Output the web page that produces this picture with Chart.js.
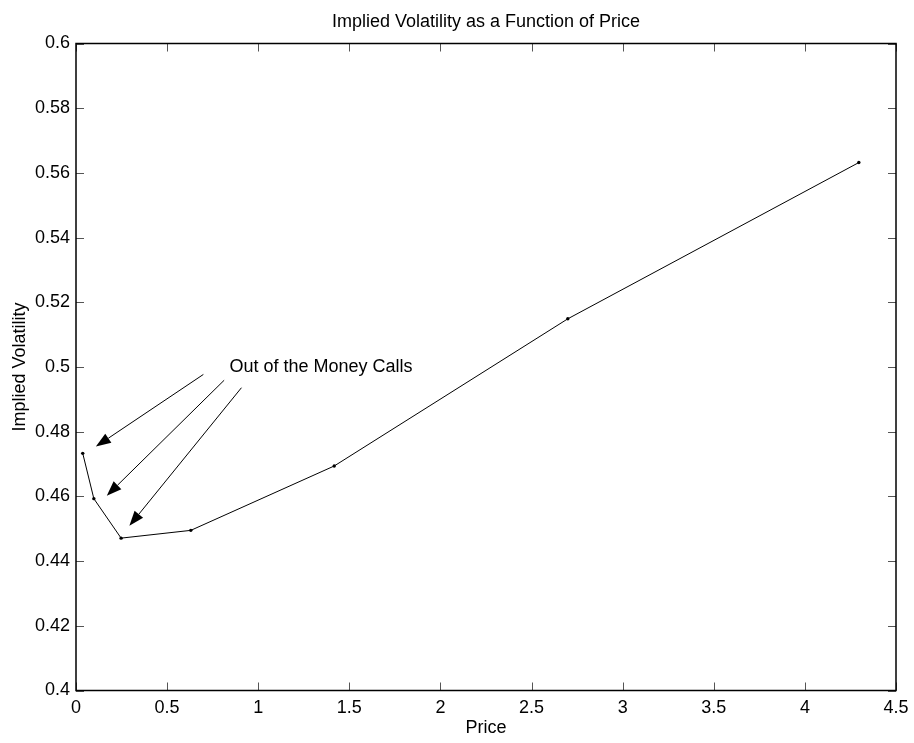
<!DOCTYPE html>
<html><head><meta charset="utf-8">
<script src="https://cdn.jsdelivr.net/npm/chart.js@4.4.1/dist/chart.umd.min.js"></script>
<style>html,body{margin:0;padding:0;background:#fff}#wrap{width:914px;height:743px}</style>
</head><body><div id="wrap"><canvas id="c" width="914" height="743"></canvas></div>
<script>
const prices = [0.037, 0.098, 0.2475, 0.630, 1.417, 2.699, 4.296];
const vols   = [0.4733, 0.4593, 0.4471, 0.4495, 0.4694, 0.5149, 0.5632];
const xTickValues = [0, 0.5, 1, 1.5, 2, 2.5, 3, 3.5, 4, 4.5];
const xTickLabels = ['0', '0.5', '1', '1.5', '2', '2.5', '3', '3.5', '4', '4.5'];
const yTickValues = [0.4, 0.42, 0.44, 0.46, 0.48, 0.5, 0.52, 0.54, 0.56, 0.58, 0.6];
const yTickLabels = ['0.4', '0.42', '0.44', '0.46', '0.48', '0.5', '0.52', '0.54', '0.56', '0.58', '0.6'];
const titleText = 'Implied Volatility as a Function of Price';
const xTitle = 'Price';
const yTitle = 'Implied Volatility';
const annotationText = 'Out of the Money Calls';
const annotationX = 0.842;
const annotationY = 0.5;
const arrowFromX = [0.699, 0.813, 0.908];
const arrowFromY = [0.4977, 0.4959, 0.4936];
const arrowToX   = [0.109, 0.169, 0.293];
const arrowToY   = [0.4754, 0.4602, 0.4509];

const FONT = '"Liberation Sans", Arial, Helvetica, sans-serif';

const framePlugin = {
  id: 'frame',
  afterDraw(chart) {
    const ctx = chart.ctx, a = chart.chartArea;
    const xs = chart.scales.x, ys = chart.scales.y;
    ctx.save();
    ctx.strokeStyle = '#555';
    ctx.lineWidth = 1;
    const tl = 8;
    ctx.beginPath();
    xTickValues.forEach(v => {
      const px = Math.round(xs.getPixelForValue(v)) + 0.5;
      ctx.moveTo(px, a.bottom); ctx.lineTo(px, a.bottom - tl);
      ctx.moveTo(px, a.top); ctx.lineTo(px, a.top + tl);
    });
    yTickValues.forEach(v => {
      const py = Math.round(ys.getPixelForValue(v)) + 0.5;
      ctx.moveTo(a.left, py); ctx.lineTo(a.left + tl, py);
      ctx.moveTo(a.right, py); ctx.lineTo(a.right - tl, py);
    });
    ctx.stroke();
    ctx.strokeStyle = '#000';
    ctx.lineWidth = 1.5;
    ctx.strokeRect(a.left, a.top, a.right - a.left, a.bottom - a.top);
    ctx.fillStyle = '#000';
    ctx.font = '18px ' + FONT;
    ctx.textBaseline = 'middle';
    ctx.textAlign = 'center';
    ctx.fillText(titleText, (a.left + a.right) / 2, 21.8);
    ctx.textAlign = 'left';
    ctx.fillText(annotationText, xs.getPixelForValue(annotationX), ys.getPixelForValue(annotationY));
    ctx.lineWidth = 1;
    for (let i = 0; i < arrowFromX.length; i++) {
      const x0 = xs.getPixelForValue(arrowFromX[i]), y0 = ys.getPixelForValue(arrowFromY[i]);
      const x1 = xs.getPixelForValue(arrowToX[i]), y1 = ys.getPixelForValue(arrowToY[i]);
      const ang = Math.atan2(y1 - y0, x1 - x0);
      const hl = 15, hw = 5.5;
      const bx = x1 - hl * Math.cos(ang), by = y1 - hl * Math.sin(ang);
      ctx.beginPath();
      ctx.moveTo(x0, y0); ctx.lineTo(bx, by);
      ctx.stroke();
      ctx.beginPath();
      ctx.moveTo(x1, y1);
      ctx.lineTo(bx + hw * Math.sin(ang), by - hw * Math.cos(ang));
      ctx.lineTo(bx - hw * Math.sin(ang), by + hw * Math.cos(ang));
      ctx.closePath();
      ctx.fill();
    }
    ctx.restore();
  }
};

new Chart(document.getElementById('c'), {
  type: 'line',
  data: {
    datasets: [{
      data: prices.map((p, i) => ({x: p, y: vols[i]})),
      borderColor: '#000',
      backgroundColor: '#000',
      borderWidth: 1,
      pointRadius: 1.7,
      pointHoverRadius: 1.7,
      pointBorderWidth: 0,
      tension: 0,
      fill: false
    }]
  },
  options: {
    responsive: false,
    animation: false,
    devicePixelRatio: 1,
    layout: { padding: { left: 0, right: 18, top: 43.5, bottom: 0 } },
    plugins: {
      legend: { display: false },
      tooltip: { enabled: false },
      title: { display: false }
    },
    scales: {
      x: {
        type: 'linear', min: 0, max: 4.5,
        grid: { display: false, drawTicks: false },
        border: { display: false },
        afterBuildTicks: s => { s.ticks = xTickValues.map(v => ({ value: v })); },
        afterFit: s => { s.height = 52.5; s.paddingLeft = 0; s.paddingRight = 0; },
        ticks: {
          color: '#000', padding: 7, maxRotation: 0, autoSkip: false,
          font: { family: FONT, size: 18 },
          callback: (v) => xTickLabels[xTickValues.findIndex(t => Math.abs(t - v) < 1e-9)]
        },
        title: { display: true, text: xTitle, color: '#000', font: { family: FONT, size: 18 }, padding: { top: 0, bottom: 4 } }
      },
      y: {
        type: 'linear', min: 0.4, max: 0.6,
        grid: { display: false, drawTicks: false },
        border: { display: false },
        afterBuildTicks: s => { s.ticks = yTickValues.map(v => ({ value: v })); },
        afterFit: s => { s.width = 76; s.paddingTop = 0; s.paddingBottom = 0; },
        ticks: {
          color: '#000', padding: 6, autoSkip: false,
          font: { family: FONT, size: 18 },
          callback: (v) => yTickLabels[yTickValues.findIndex(t => Math.abs(t - v) < 1e-9)]
        },
        title: { display: true, text: yTitle, color: '#000', font: { family: FONT, size: 18 }, padding: { top: 9, bottom: 0 } }
      }
    }
  },
  plugins: [framePlugin]
});
</script></body></html>
